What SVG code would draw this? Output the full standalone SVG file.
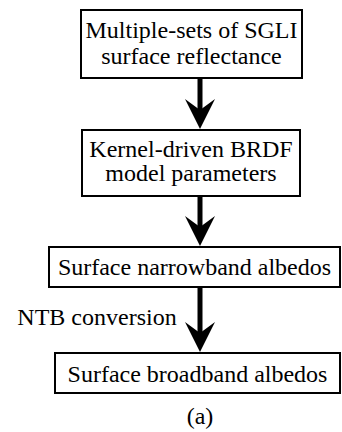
<svg xmlns="http://www.w3.org/2000/svg" width="342" height="432" viewBox="0 0 342 432">
<style>
.box{fill:#fff;stroke:#000;stroke-width:2}
text{font-family:"Liberation Serif","Times New Roman",Times,serif;font-size:24px;fill:#000;text-anchor:middle}
.shaft{stroke:#000;stroke-width:5;fill:none}
</style>
<defs>
<path id="head" d="M0,0 L-15,-30 L0,-19 L15,-30 Z" fill="#000"/>
</defs>
<rect width="342" height="432" fill="#fff"/>
<g id="connectors">
<line class="shaft" x1="200" y1="78" x2="200" y2="112"/>
<use href="#head" x="200" y="129"/>
<line class="shaft" x1="200" y1="196" x2="200" y2="230"/>
<use href="#head" x="200" y="246"/>
<line class="shaft" x1="200" y1="287" x2="200" y2="336"/>
<use href="#head" x="200" y="352"/>
</g>
<g id="n1" font-family="Liberation Serif, serif">
<rect class="box" x="81" y="10" width="221" height="68"/>
<text x="191.5" y="38" font-family="Liberation Serif, serif">Multiple-sets of SGLI</text>
<text x="191.5" y="64" font-family="Liberation Serif, serif">surface reflectance</text>
</g>
<g id="n2">
<rect class="box" x="82" y="130" width="218" height="66"/>
<text x="191" y="157" font-family="Liberation Serif, serif">Kernel-driven BRDF</text>
<text x="191" y="181" font-family="Liberation Serif, serif">model parameters</text>
</g>
<g id="n3">
<rect class="box" x="49" y="247" width="291" height="40"/>
<text x="194.5" y="275" font-family="Liberation Serif, serif">Surface narrowband albedos</text>
</g>
<g id="n4">
<rect class="box" x="55" y="353" width="285" height="40"/>
<text x="197.5" y="382" font-family="Liberation Serif, serif">Surface broadband albedos</text>
</g>
<text x="97" y="325" font-family="Liberation Serif, serif">NTB conversion</text>
<text x="200" y="424" font-family="Liberation Serif, serif">(a)</text>
</svg>
